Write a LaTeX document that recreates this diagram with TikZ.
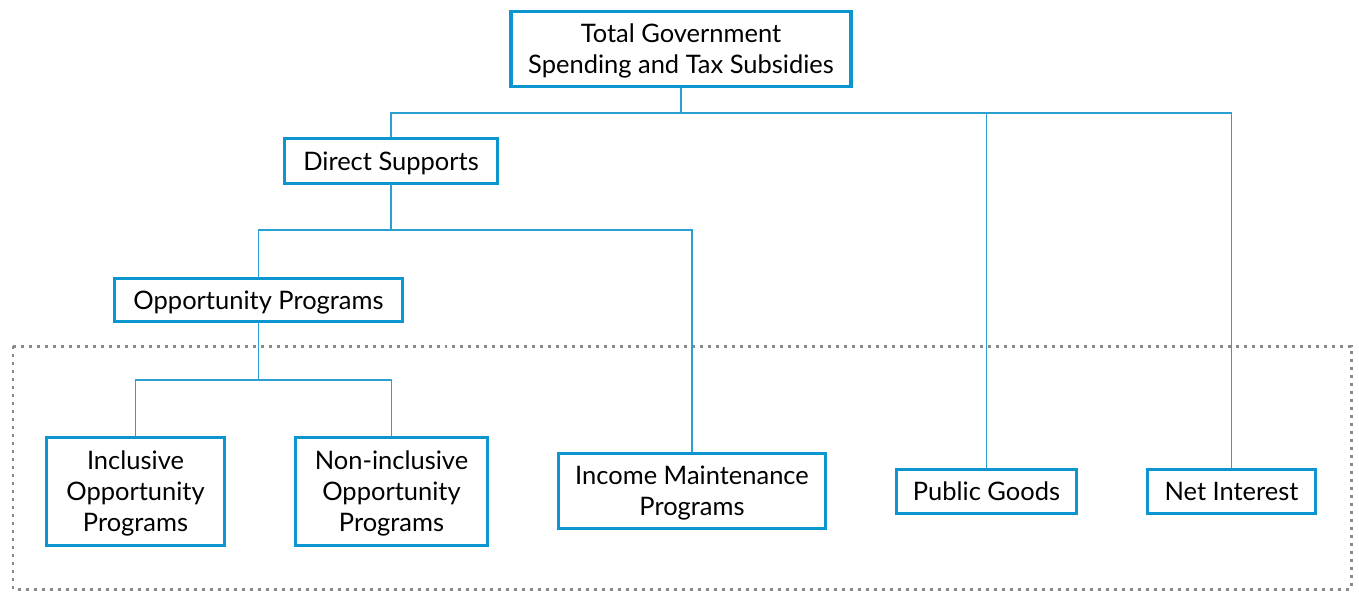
\documentclass[tikz,border=0pt]{standalone}
\usepackage{fontspec}
\setmainfont{Lato}
\definecolor{boxblue}{HTML}{0B96D0}
\definecolor{linkblue}{HTML}{2C9FD2}
\definecolor{dotgray}{HTML}{8A8A8A}
\begin{document}
\begin{tikzpicture}[x=0.02cm,y=-0.02cm,
    box/.style={draw=boxblue, line width=2pt, fill=white, align=center,
      inner sep=2pt, text depth=0pt, font=\fontsize{14.5}{17.6}\selectfont},
    link/.style={draw=linkblue, line width=1.1pt}]
  \useasboundingbox (0,0) rectangle (1359,593);

  % group of the lower programs
  \draw[dotgray, line width=0.06cm, dash pattern=on 0.06cm off 0.1cm]
    (13,346) rectangle (1351,589);

  % top level
  \node[box, minimum width=6.8cm, minimum height=1.5cm] (total) at (681,49)
    {Total Government\\Spending and Tax Subsidies};

  % second level
  \node[box, minimum width=4.26cm, minimum height=0.9cm] (direct) at (391,161)
    {Direct Supports};
  \node[box, minimum width=3.6cm, minimum height=0.88cm] (goods) at (986.5,491.5)
    {Public Goods};
  \node[box, minimum width=3.36cm, minimum height=0.88cm] (interest) at (1231.5,491.5)
    {Net Interest};

  % third level
  \node[box, minimum width=5.76cm, minimum height=0.86cm] (opp) at (258.5,300)
    {Opportunity Programs};
  \node[box, minimum width=5.34cm, minimum height=1.5cm] (income) at (692,491)
    {Income Maintenance\\Programs};

  % fourth level
  \node[box, minimum width=3.56cm, minimum height=2.16cm] (incl) at (135.5,491.5)
    {Inclusive\\Opportunity\\Programs};
  \node[box, minimum width=3.84cm, minimum height=2.16cm] (nonincl) at (391.5,491.5)
    {Non-inclusive\\Opportunity\\Programs};

  % links
  \draw[link] (total.south) -- ++(0,25) -| (direct.north);
  \draw[link] (total.south) -- ++(0,25) -| (goods.north);
  \draw[link] (total.south) -- ++(0,25) -| (interest.north);

  \draw[link] (direct.south) -- ++(0,45) -| (opp.north);
  \draw[link] (direct.south) -- ++(0,45) -| (income.north);

  \draw[link] (opp.south) -- ++(0,57) -| (incl.north);
  \draw[link] (opp.south) -- ++(0,57) -| (nonincl.north);
\end{tikzpicture}
\end{document}
